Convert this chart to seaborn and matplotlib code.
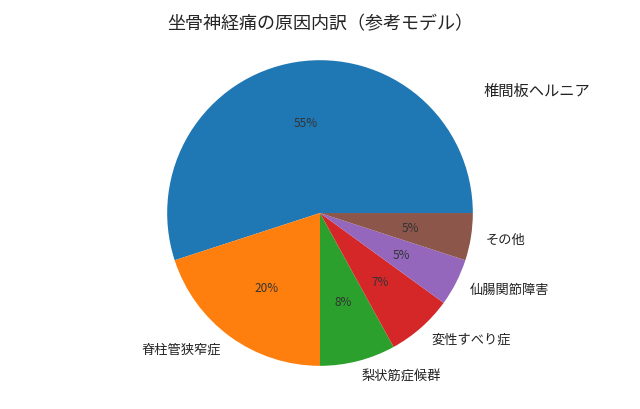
import matplotlib
matplotlib.use("Agg")
import matplotlib.pyplot as plt
import seaborn as sns

labels = ["椎間板ヘルニア", "脊柱管狭窄症", "梨状筋症候群", "変性すべり症", "仙腸関節障害", "その他"]
values = [55, 20, 8, 7, 5, 5]

sns.set_theme(style="white")
plt.rcParams["font.family"] = "Noto Sans CJK JP"
colors = sns.color_palette("tab10", len(values))

fig = plt.figure(figsize=(6.4, 4.1), dpi=100)
ax = fig.add_axes([0.22, 0.068, 0.56, 0.82])
wedges, texts, autotexts = ax.pie(values, labels=labels, colors=colors, autopct="%1.0f%%",
                                  startangle=0, labeldistance=1.1, pctdistance=0.6,
                                  wedgeprops={"linewidth": 0},
                                  textprops={"fontsize": 9.5, "color": "#222222"})
for t in autotexts:
    t.set_fontsize(8.5)
    t.set_color("#333333")
texts[0].set_fontsize(11)
texts[0].set_position((1.07, 0.80))
texts[0].set_ha("left")
ax.set_title("坐骨神経痛の原因内訳（参考モデル）", fontsize=13, pad=12)
ax.axis("equal")
fig.savefig("out.png", dpi=100)
